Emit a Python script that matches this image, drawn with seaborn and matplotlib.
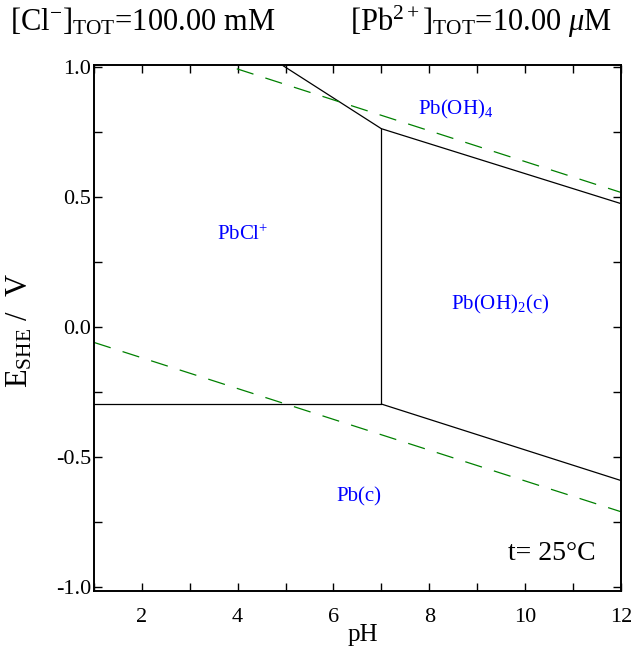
import numpy as np
import pandas as pd
import seaborn as sns
import matplotlib
matplotlib.use('Agg')
import matplotlib.pyplot as plt
from matplotlib.ticker import MultipleLocator

# Fronteiras do diagrama (pH, E / V)
pb_pbcl_ph = [1.0, 7.0]
pb_pbcl_e = [-0.296, -0.296]
pbcl_oh2_ph = [7.0, 7.0]
pbcl_oh2_e = [-0.296, 0.763]
pbcl_oh4_ph = [4.95, 7.0]
pbcl_oh4_e = [1.005, 0.763]
oh2_oh4_ph = [7.0, 12.0]
oh2_oh4_e = [0.763, 0.475]
pb_oh2_ph = [7.0, 12.0]
pb_oh2_e = [-0.296, -0.59]

# Limites da agua
agua_ph = [1.0, 12.0]
agua_sup_e = [1.17, 0.518]
agua_inf_e = [-0.059, -0.71]

# Rotulos das especies
especies = ['Pb(OH)$_4$', 'PbCl$^{+}$', 'Pb(OH)$_2$(c)', 'Pb(c)']
especies_ph = [8.56, 4.1, 9.48, 6.53]
especies_e = [0.838, 0.354, 0.085, -0.654]

sns.set_theme(style='ticks')
plt.rcParams['font.family'] = ['Liberation Serif', 'DejaVu Serif']
plt.rcParams['mathtext.fontset'] = 'custom'
plt.rcParams['mathtext.rm'] = 'Liberation Serif'
plt.rcParams['mathtext.it'] = 'Liberation Serif:italic'
plt.rcParams['mathtext.default'] = 'regular'
plt.rcParams['text.color'] = 'black'
plt.rcParams['axes.labelcolor'] = 'black'

fig = plt.figure(figsize=(6.42, 6.59), dpi=100)
ax = fig.add_axes([0.1464, 0.1032, 0.8206, 0.7982])

fronteiras = [
    (pb_pbcl_ph, pb_pbcl_e),
    (pbcl_oh2_ph, pbcl_oh2_e),
    (pbcl_oh4_ph, pbcl_oh4_e),
    (oh2_oh4_ph, oh2_oh4_e),
    (pb_oh2_ph, pb_oh2_e),
]
for xs, ys in fronteiras:
    df = pd.DataFrame({'pH': xs, 'E': ys})
    sns.lineplot(data=df, x='pH', y='E', ax=ax, color='black', linewidth=0.9,
                 estimator=None, sort=False)

for ys in [agua_sup_e, agua_inf_e]:
    df = pd.DataFrame({'pH': agua_ph, 'E': ys})
    sns.lineplot(data=df, x='pH', y='E', ax=ax, color='#008000', linewidth=0.9,
                 estimator=None, sort=False)
    ax.lines[-1].set_dashes([14, 10])

for nome, px, py in zip(especies, especies_ph, especies_e):
    ax.text(px, py, nome, color='#0000ff', fontsize=15, ha='center', va='center')

ax.text(10.55, -0.87, 't= 25°C', fontsize=20, ha='center', va='center')

ax.set_xlim(1, 12)
ax.set_ylim(-1.015, 1.008)
ax.xaxis.set_major_locator(MultipleLocator(2))
ax.xaxis.set_minor_locator(MultipleLocator(1))
ax.yaxis.set_minor_locator(MultipleLocator(0.25))
ax.set_yticks([-1.0, -0.5, 0.0, 0.5, 1.0])
ax.set_yticklabels(['-1.0', '-0.5', '0.0', '0.5', '1.0'])
ax.tick_params(which='both', direction='in', top=True, right=True, length=6,
               width=1, labelsize=16, color='black', labelcolor='black')
ax.tick_params(axis='x', pad=12)
ax.tick_params(axis='y', pad=2)
for s in ax.spines.values():
    s.set_linewidth(1.4)
    s.set_color('black')

ax.set_xlabel('pH', fontsize=18)
ax.xaxis.set_label_coords(0.51, -0.063)
ax.set_ylabel('E$_{SHE}$ /  V', fontsize=22)
ax.yaxis.set_label_coords(-0.112, 0.496)

fig.text(0.015, 0.967, '[Cl$^{-}$]$_{TOT}$=100.00 mM', fontsize=22, ha='left', va='center')
fig.text(0.545, 0.967, '[Pb$^{2+}$]$_{TOT}$=10.00 $\\mathit{\\mu}$M', fontsize=22,
         ha='left', va='center')

fig.savefig('out.png', dpi=100, facecolor='white')
